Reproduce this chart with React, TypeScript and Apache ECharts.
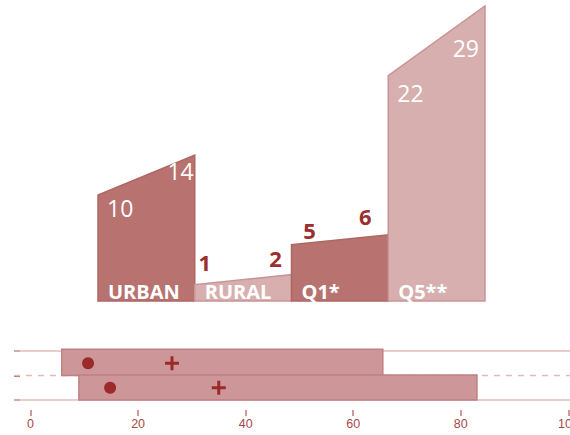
import React, { useEffect, useRef } from "react";
import * as echarts from "echarts";

// ---- data ----
const categories = ["URBAN", "RURAL", "Q1*", "Q5**"];
const startValues = [10, 1, 5, 22];
const endValues = [14, 2, 6, 29];

const rangeStart = [5.8, 9.0];
const rangeEnd = [65.5, 83.0];
const dotValues = [10.7, 14.8];
const plusValues = [26.3, 35.0];
const xTickValues = [0, 20, 40, 60, 80, 100];
const rowLineValues = [0, 1, 2];

// ---- styles ----
const Y_MIN = -0.65;
const Y_MAX = 29;
const X2_MIN = -3.07;
const X2_MAX = 100.3;
const darkFill = "#b87270";
const darkStroke = "#b06664";
const lightFill = "#d7afaf";
const lightStroke = "#c99495";
const deepRed = "#9b2e2e";
// label offsets per category: [left dx, left dy, right dx, right dy]
const labelOffsets = [
  [9, 13, -1, 16],
  [10, -23, -16, -17],
  [18, -15, -23, -19],
  [9, 17, -6, 42],
];
const rowLineTypes = ["solid", "dashed", "solid"];

export default function App() {
  const ref = useRef<HTMLDivElement>(null);

  useEffect(() => {
    if (!ref.current) return;
    const chart = echarts.init(ref.current, undefined, { renderer: "svg" });

    const topData = categories.map((c, i) => [i, startValues[i], endValues[i]]);
    const bottomData = rangeStart.map((s, i) => [s, rangeEnd[i], i, dotValues[i], plusValues[i]]);

    chart.setOption({
      animation: false,
      grid: [
        { left: 98, right: 85, top: 6, bottom: 134, outerBoundsMode: "none", containLabel: false },
        { left: 14, right: 0, top: 351, bottom: 35, outerBoundsMode: "none", containLabel: false },
      ],
      xAxis: [
        { gridIndex: 0, type: "value", min: 0, max: 4, show: false },
        {
          gridIndex: 1,
          type: "value",
          min: X2_MIN,
          max: X2_MAX,
          offset: 10,
          axisLine: { show: false, onZero: false },
          splitLine: { show: false },
          axisTick: {
            show: true,
            length: 6,
            customValues: xTickValues,
            lineStyle: { color: "#c27878", width: 1.5 },
          },
          axisLabel: {
            show: true,
            customValues: xTickValues,
            margin: 7,
            color: "#a84848",
            fontFamily: "Liberation Sans",
            fontSize: 12.5,
            hideOverlap: false,
          },
        },
      ],
      yAxis: [
        { gridIndex: 0, type: "value", min: Y_MIN, max: Y_MAX, show: false },
        {
          gridIndex: 1,
          type: "value",
          min: 0,
          max: 2,
          interval: 1,
          axisLine: { show: false, onZero: false },
          axisLabel: { show: false },
          splitLine: { show: false },
          axisTick: {
            show: true,
            inside: true,
            length: 6,
            lineStyle: { color: "#c06c6c", width: 2 },
          },
        },
      ],
      series: [
        {
          type: "custom",
          xAxisIndex: 0,
          yAxisIndex: 0,
          data: topData,
          renderItem: (params: any, api: any) => {
            const i = api.value(0);
            const a = api.value(1);
            const b = api.value(2);
            const p0 = api.coord([i, Y_MIN]);
            const p1 = api.coord([i, a]);
            const p2 = api.coord([i + 1, b]);
            const p3 = api.coord([i + 1, Y_MIN]);
            const dark = i % 2 === 0;
            const inside = i === 0 || i === 3;
            const off = labelOffsets[i];
            const valFont = inside
              ? '23px "Open Sans"'
              : 'bold 22px "Open Sans"';
            const valColor = inside ? "#ffffff" : deepRed;
            return {
              type: "group",
              children: [
                {
                  type: "polygon",
                  shape: { points: [p0, p1, p2, p3] },
                  style: {
                    fill: dark ? darkFill : lightFill,
                    stroke: dark ? darkStroke : lightStroke,
                    lineWidth: 1.5,
                  },
                },
                {
                  type: "text",
                  x: p0[0] + 10,
                  y: p0[1] - 10,
                  style: {
                    text: categories[i],
                    fill: "#ffffff",
                    font: 'bold 20px "Open Sans"',
                    align: "left",
                    verticalAlign: "middle",
                  },
                },
                {
                  type: "text",
                  x: p1[0] + off[0],
                  y: p1[1] + off[1],
                  style: {
                    text: String(a),
                    fill: valColor,
                    font: valFont,
                    align: inside ? "left" : "center",
                    verticalAlign: "middle",
                  },
                },
                {
                  type: "text",
                  x: p2[0] + off[2],
                  y: p2[1] + off[3],
                  style: {
                    text: String(b),
                    fill: valColor,
                    font: valFont,
                    align: inside ? "right" : "center",
                    verticalAlign: "middle",
                  },
                },
              ],
            };
          },
        },
        {
          type: "custom",
          xAxisIndex: 1,
          yAxisIndex: 1,
          data: rowLineValues.map((v) => [v]),
          renderItem: (params: any, api: any) => {
            const v = api.value(0);
            const a = api.coord([X2_MIN, v]);
            const b = api.coord([X2_MAX, v]);
            return {
              type: "line",
              shape: { x1: a[0], y1: a[1], x2: b[0], y2: b[1] },
              style: {
                stroke: "#e2bcbc",
                lineWidth: 1.5,
                lineDash: rowLineTypes[params.dataIndex] === "dashed" ? [6, 6] : null,
              },
            };
          },
        },
        {
          type: "custom",
          xAxisIndex: 1,
          yAxisIndex: 1,
          data: bottomData,
          renderItem: (params: any, api: any) => {
            const s = api.value(0);
            const e = api.value(1);
            const row = api.value(2);
            const dot = api.value(3);
            const plus = api.value(4);
            const top = api.coord([s, 2 - row]);
            const bot = api.coord([e, 1 - row]);
            const yTop = top[1] - (row === 0 ? 1.7 : 0.5);
            const yBot = bot[1];
            const cy = (top[1] + bot[1]) / 2;
            const d = api.coord([dot, 1.5 - row]);
            const p = api.coord([plus, 1.5 - row]);
            return {
              type: "group",
              children: [
                {
                  type: "rect",
                  shape: { x: top[0], y: yTop, width: bot[0] - top[0], height: yBot - yTop },
                  style: { fill: "#cd9698", stroke: "#c08083", lineWidth: 1.5 },
                },
                {
                  type: "circle",
                  shape: { cx: d[0], cy: cy, r: 6 },
                  style: { fill: "#9c2a2a" },
                },
                {
                  type: "line",
                  shape: { x1: p[0] - 7, y1: cy, x2: p[0] + 7, y2: cy },
                  style: { stroke: "#9c2a2a", lineWidth: 3 },
                },
                {
                  type: "line",
                  shape: { x1: p[0], y1: cy - 7, x2: p[0], y2: cy + 7 },
                  style: { stroke: "#9c2a2a", lineWidth: 3 },
                },
              ],
            };
          },
        },
      ],
    });

    return () => chart.dispose();
  }, []);

  return (
    <div
      ref={ref}
      style={{ position: "fixed", left: 0, top: 0, width: 570, height: 435, background: "#ffffff" }}
    />
  );
}
